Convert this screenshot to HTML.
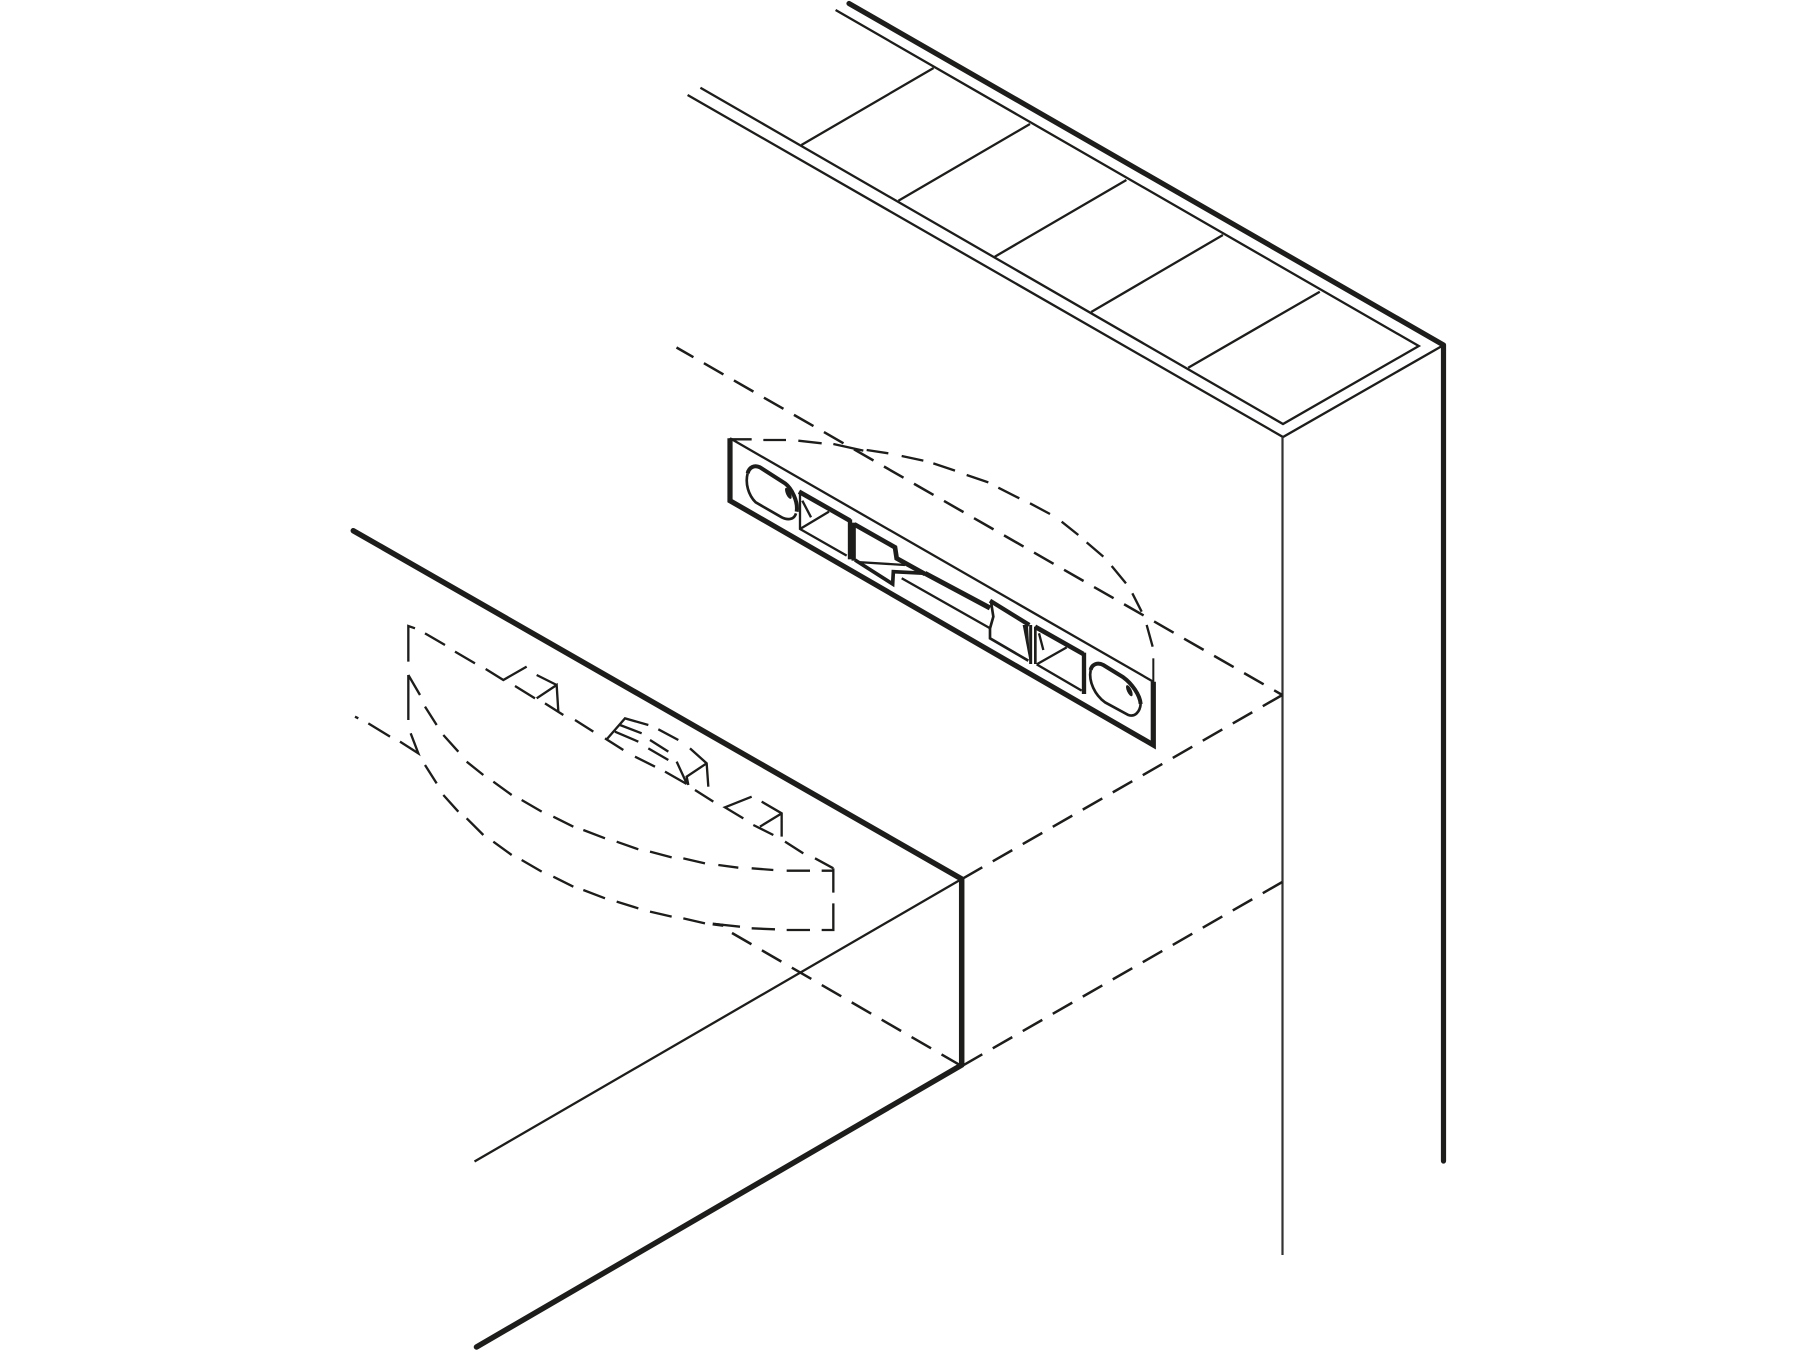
<!DOCTYPE html>
<html><head><meta charset="utf-8"><style>html,body{margin:0;padding:0;background:#fff}svg{display:block}</style></head>
<body>
<svg xmlns="http://www.w3.org/2000/svg" width="1800" height="1350" viewBox="0 0 1800 1350" fill="none" stroke="#1d1d1b" stroke-linecap="butt" stroke-linejoin="miter">
<rect width="1800" height="1350" fill="#fff" stroke="none"/>
<!-- top panel -->
<path d="M849 3.500L1443.500 345M1443.500 345V1161" stroke-width="5.200" stroke-linecap="round"/>
<path d="M835.600 10L1418.800 346L1283 424L700.400 87.700M687.600 95L1283 437L1442 346" stroke-width="2.300"/>
<path d="M1282.500 437V1255" stroke-width="2.200" stroke="#333"/>
<path d="M933.600 68L801.400 145M1030 124L898.400 200.700M1126.400 180L994.800 256.700M1222.900 235L1091.200 312M1319.800 291.700L1188.200 367.700" stroke-width="2.300"/>
<!-- bottom panel -->
<path d="M353.300 530.700L961.700 879M961.700 879V1065M961.700 1065L476.500 1347" stroke-width="5.500" stroke-linecap="round"/>
<path d="M961.700 879L474.500 1161.500" stroke-width="2.300"/>
<!-- dashed guides -->
<g stroke-width="2.500" stroke-dasharray="22.500 12.100">
<path d="M676.500 347.500L1282.300 695" stroke-dashoffset="3"/>
<path d="M1282.300 695L962 879"/>
<path d="M1282.300 882L962 1066"/>
<path d="M961 1065.700L732 933"/>
</g>
<!-- level bar arc -->
<g transform="translate(700 420) scale(.33333)" stroke-width="7">
<path d="M88 58H155M190 60H258M295 62L365 70M400 72L490 92M500 90L565 100M605 108L670 122M700 130L765 152M800 165L865 187M895 203L958 235M990 250L1050 282M1085 305L1135 345M1160 367L1210 410M1235 438L1278 490M1297 520L1325 575M1340 615L1358 680"/>
<path d="M1360 715V790" stroke-width="6"/>
</g>
<!-- level bar outline -->
<path d="M730 438.300V500.700L1153.300 745V681.700" stroke-width="5.200"/>
<path d="M730 438.300L1153.300 681.700" stroke-width="2.300"/>
<!-- bar left part -->
<g transform="translate(725 430) scale(.33333)">
<path d="M68 130C72 112 88 104 105 112L180 160C200 175 220 215 215 245" stroke-width="12"/>
<path d="M68 130C60 160 70 195 92 217L170 262C190 272 208 268 213 250" stroke-width="8"/>
<ellipse cx="190" cy="190" rx="7" ry="18" transform="rotate(-25 190 190)" fill="#1d1d1b" stroke="none"/>
<path d="M222 185L375 272" stroke-width="14"/>
<path d="M375 268V388" stroke-width="13"/>
<path d="M225 185V297L365 377M225 297L312 245M232 212L258 262" stroke-width="7"/>
<path d="M386 278V392" stroke-width="13"/>
<path d="M388 283L510 352L515 385L600 432" stroke-width="14"/>
<path d="M390 390L503 462L505 425L600 430" stroke-width="11"/>
<path d="M395 396L540 405" stroke-width="7"/>
</g>
<!-- bar middle -->
<path d="M925 573.300L990 608" stroke-width="5"/>
<path d="M901.700 578.300L990 628.300" stroke-width="2.300"/>
<!-- bar right part -->
<g transform="translate(940 570) scale(.33333)">
<path d="M150 92L268 165" stroke-width="13"/>
<path d="M153 95L160 140L150 175V205L265 272" stroke-width="8"/>
<path d="M248 165L264 165L270 280Z" fill="#1d1d1b" stroke="none"/>
<path d="M272 165V282" stroke-width="9"/>
<path d="M286 170V282" stroke-width="8"/>
<path d="M285 170L430 252" stroke-width="14"/>
<path d="M432 248V372" stroke-width="13"/>
<path d="M290 283L425 362M290 283L380 232M297 190L310 240" stroke-width="7"/>
<path d="M452 300C455 285 470 275 490 285L550 322C575 340 600 375 602 402" stroke-width="12"/>
<path d="M452 300C445 335 465 375 495 397L565 435C585 442 600 425 602 402" stroke-width="8"/>
<ellipse cx="568" cy="362" rx="7" ry="18" transform="rotate(-25 568 362)" fill="#1d1d1b" stroke="none"/>
</g>
<!-- ghost bar -->
<g transform="translate(340 600) scale(.33333)" stroke-width="7">
<path d="M225 85L205 78V185M205 225V360"/>
<path d="M205 225L240 285M255 320L290 375M310 405L355 455M380 485L430 525M460 545L515 585M545 600L605 635M640 650L700 680M730 690L795 715M830 725L895 748M930 755L995 772M1030 775L1095 790M1135 795L1195 803M1235 805L1300 810M1340 812H1410M1445 812H1480"/>
<path d="M255 495L290 550M310 585L355 635M380 655L430 705M460 725L515 765M545 780L605 815M640 830L700 860M730 870L795 895M830 905L895 925M930 935L995 950M1030 955L1095 970M1125 972L1200 980M1235 985L1305 988M1340 990H1410M1445 990H1480V910M1480 878V805"/>
<path d="M255 100L315 135M345 155L405 190M437 207L490 240L560 200M525 258L585 295M590 225L650 255M590 295L650 255L655 335M615 310L670 345M705 360L760 395"/>
<path d="M795 415L850 450M800 418L855 355L925 375M840 375L905 400M825 395L895 425M885 470L945 500M955 388L1015 420M930 420L985 455M925 445L985 480M1050 445L1100 490L1105 560M1100 490L1040 530L1045 555M1010 485L1040 550M975 515L1040 552M1065 570L1120 605"/>
<path d="M1235 590L1155 622L1210 655M1265 605L1325 640V710M1325 640L1260 680M1240 675L1300 705M1335 725L1390 760M1425 775L1480 805"/>
<path d="M45 350L55 355M85 370L150 410M180 425L235 460L212 400"/>
<path d="M1118 972L1150 976" stroke-width="9"/>
</g>
</svg>
</body></html>
